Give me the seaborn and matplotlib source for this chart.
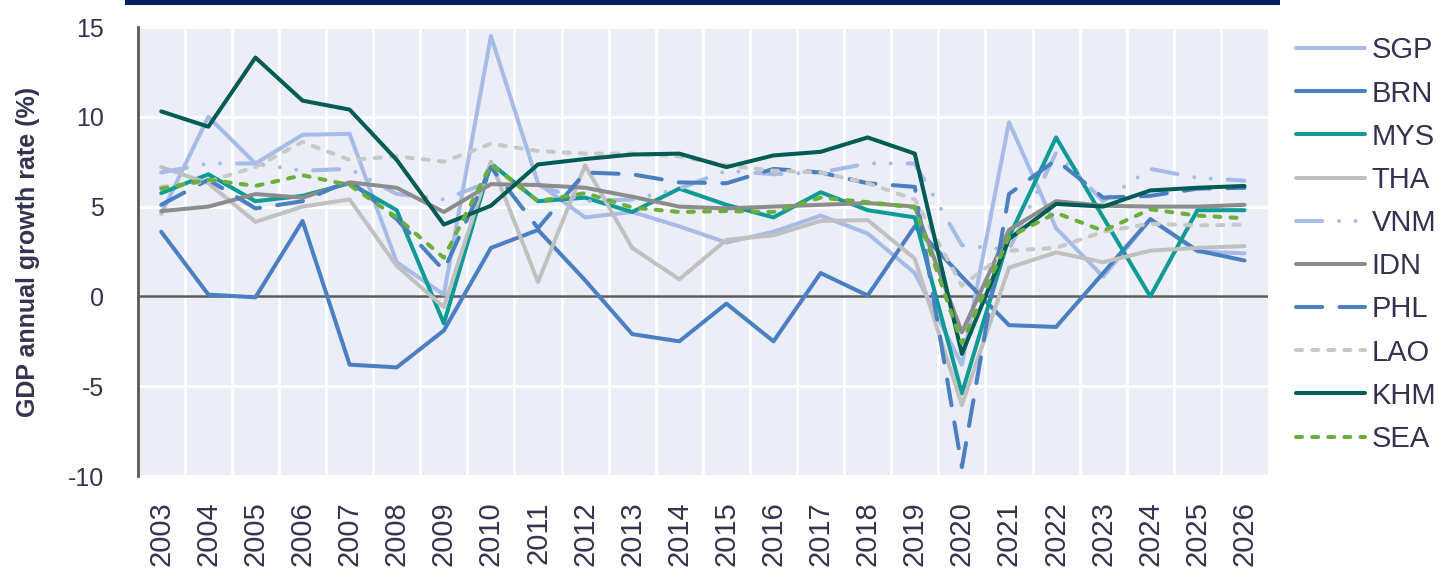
import numpy as np
import pandas as pd
import matplotlib.pyplot as plt
import seaborn as sns
from matplotlib.patches import Rectangle

# Data
years = list(range(2003, 2027))
countries = ['SGP', 'BRN', 'MYS', 'THA', 'VNM', 'IDN', 'PHL', 'LAO', 'KHM', 'SEA']

sgp = [4.6, 10.0, 7.4, 9.0, 9.05, 1.9, 0.1, 14.5, 6.3, 4.4, 4.7, 3.9,
       3.0, 3.6, 4.5, 3.5, 1.3, -3.8, 9.7, 3.8, 1.1, 4.3, 2.5, 2.4]
brn = [3.6, 0.1, -0.05, 4.2, -3.8, -3.95, -1.9, 2.7, 3.7, 0.9, -2.1, -2.5,
       -0.4, -2.5, 1.3, 0.05, 3.9, 1.1, -1.6, -1.7, 1.3, 4.3, 2.55, 2.0]
mys = [5.75, 6.8, 5.3, 5.6, 6.3, 4.8, -1.5, 7.4, 5.3, 5.5, 4.7, 6.0,
       5.1, 4.4, 5.8, 4.8, 4.4, -5.4, 3.3, 8.85, 4.4, 0.0, 4.8, 4.8]
tha = [7.2, 6.3, 4.15, 5.0, 5.4, 1.7, -0.6, 7.5, 0.8, 7.3, 2.7, 0.95,
       3.15, 3.4, 4.2, 4.25, 2.1, -6.05, 1.6, 2.45, 1.9, 2.55, 2.7, 2.8]
vnm = [6.9, 7.4, 7.4, 7.0, 7.1, 5.7, 5.4, 6.4, 6.2, 5.3, 5.4, 6.0,
       7.0, 6.8, 6.9, 7.4, 7.4, 2.85, 2.6, 8.0, 5.3, 7.1, 6.6, 6.45]
idn = [4.75, 5.0, 5.7, 5.5, 6.35, 6.05, 4.7, 6.25, 6.2, 6.05, 5.55, 5.0,
       4.9, 5.0, 5.1, 5.2, 5.0, -2.0, 3.7, 5.3, 5.05, 5.0, 5.0, 5.1]
phl = [5.1, 6.5, 4.9, 5.3, 6.45, 4.3, 1.45, 7.2, 3.8, 6.9, 6.8, 6.35,
       6.3, 7.1, 6.9, 6.3, 6.1, -9.5, 5.7, 7.6, 5.5, 5.6, 6.0, 6.05]
lao = [6.1, 6.4, 7.2, 8.6, 7.6, 7.8, 7.5, 8.5, 8.1, 7.95, 7.95, 7.8,
       7.3, 7.0, 6.9, 6.3, 5.4, 0.6, 2.55, 2.7, 3.6, 4.05, 3.95, 4.0]
khm = [10.3, 9.45, 13.3, 10.9, 10.4, 7.6, 4.0, 5.05, 7.35, 7.65, 7.9, 7.95,
       7.2, 7.85, 8.05, 8.85, 7.95, -3.2, 3.2, 5.15, 5.0, 5.9, 6.05, 6.15]
sea = [6.0, 6.5, 6.15, 6.75, 6.2, 4.4, 2.15, 7.35, 5.3, 5.75, 4.95, 4.7,
       4.75, 4.7, 5.5, 5.25, 4.95, -2.6, 3.3, 4.65, 3.65, 4.85, 4.5, 4.35]

series = [sgp, brn, mys, tha, vnm, idn, phl, lao, khm, sea]
df = pd.DataFrame({
    'year': years * len(countries),
    'country': np.repeat(countries, len(years)),
    'growth': np.concatenate(series),
})

palette = {'SGP': '#a6bbe6', 'BRN': '#4a7fc1', 'MYS': '#0e9a95', 'THA': '#c0c0c0',
           'VNM': '#a6bbe6', 'IDN': '#8c8c8c', 'PHL': '#4a7fc1', 'LAO': '#c8c8c8',
           'KHM': '#005b55', 'SEA': '#6aaf3c'}
dashes = {'SGP': '', 'BRN': '', 'MYS': '', 'THA': '', 'VNM': (6.5, 4.2, 0.01, 4.1, 0.01, 4.2),
          'IDN': '', 'PHL': (6.5, 4.3), 'LAO': (1.5, 2.5), 'KHM': '', 'SEA': (1.5, 2.5)}

sns.set_style('white')
plt.rcParams['font.family'] = ['Liberation Sans', 'DejaVu Sans']
plt.rcParams['axes.unicode_minus'] = False
plt.rcParams['lines.dash_capstyle'] = 'round'
plt.rcParams['lines.solid_capstyle'] = 'round'
plt.rcParams['lines.solid_joinstyle'] = 'round'
plt.rcParams['lines.dash_joinstyle'] = 'round'

text_col = '#333350'

fig = plt.figure(figsize=(14.48, 5.77), dpi=100)
ax = fig.add_axes([0.0951, 0.175, 0.7806, 0.7782])
ax.set_facecolor('#ebeef6')

sns.lineplot(data=df, x='year', y='growth', hue='country', style='country',
             hue_order=countries, style_order=countries, palette=palette,
             dashes=dashes, lw=2.9, errorbar=None, ax=ax)

ax.axhline(0, color='#595959', lw=1.8, zorder=1.5)

ax.set_xlim(2002.5, 2026.5)
ax.set_ylim(-10, 15)
ax.set_xticks(years)
ax.set_xticks(np.arange(2003.5, 2026.5, 1), minor=True)
ax.set_yticks(range(-10, 16, 5))
ax.grid(which='minor', axis='x', color='white', lw=2)
ax.grid(which='major', axis='y', color='white', lw=2)
ax.set_axisbelow(True)
ax.tick_params(axis='x', which='both', length=0, labelrotation=90, labelsize=21,
               pad=18, labelcolor=text_col)
ax.tick_params(axis='y', length=0, labelsize=18, pad=24, labelcolor=text_col)

for s in ['top', 'right', 'bottom']:
    ax.spines[s].set_visible(False)
ax.spines['left'].set_color('#595959')
ax.spines['left'].set_linewidth(2)

ax.set_xlabel('')
ax.set_ylabel('GDP annual growth rate (%)', fontsize=18, fontweight='bold', color=text_col)
ax.yaxis.set_label_coords(-0.086, 0.5)

sns.move_legend(ax, 'upper left', bbox_to_anchor=(0.895, 0.937), bbox_transform=fig.transFigure,
                frameon=False, title=None, fontsize=21, handlelength=2.35, handletextpad=0.25,
                labelspacing=0.52, borderpad=0, borderaxespad=0, labelcolor=text_col)

# navy band along the top
fig.add_artist(Rectangle((125 / 1448, 1 - 5 / 577), 1155 / 1448, 5 / 577,
                         transform=fig.transFigure, color='#002060', lw=0))

fig.savefig('out.png', dpi=100)
